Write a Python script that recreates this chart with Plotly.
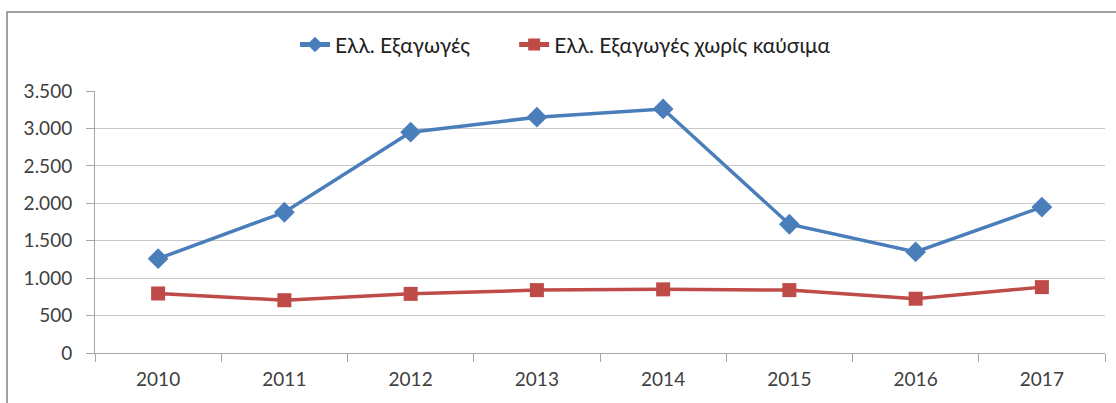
import plotly.graph_objects as go

# data
years = ['2010', '2011', '2012', '2013', '2014', '2015', '2016', '2017']
exports = [1260, 1880, 2950, 3150, 3260, 1720, 1350, 1950]
exports_no_fuel = [795, 705, 790, 840, 850, 840, 725, 880]

name_exports = 'Ελλ. Εξαγωγές'
name_no_fuel = 'Ελλ. Εξαγωγές χωρίς καύσιμα'

blue = '#4a7ebb'
red = '#be4b48'
grey_text = '#404040'

fig = go.Figure()
fig.add_trace(go.Scatter(x=years, y=exports, name=name_exports, mode='lines+markers',
                         line=dict(color=blue, width=3.5),
                         marker=dict(symbol='diamond', size=16, color=blue)))
fig.add_trace(go.Scatter(x=years, y=exports_no_fuel, name=name_no_fuel, mode='lines+markers',
                         line=dict(color=red, width=3.5),
                         marker=dict(symbol='square', size=14, color=red),
                         legend='legend2'))

legend_style = dict(orientation='h', xanchor='left', y=1.176, yanchor='middle',
                    font=dict(size=21, color='#202020'), itemwidth=30,
                    itemsizing='constant', bgcolor='rgba(0,0,0,0)')

fig.update_layout(
    width=1116, height=403,
    margin=dict(l=95, r=11, t=91, b=50),
    paper_bgcolor='white', plot_bgcolor='white',
    separators=',.',
    font=dict(family='Lato, Open Sans, sans-serif', size=19, color=grey_text),
    legend=dict(x=0.198, **legend_style),
    legend2=dict(x=0.415, **legend_style),
    showlegend=True,
)

fig.update_xaxes(type='category', showline=True, linecolor='#a6a6a6', linewidth=1,
                 ticks='outside', tickson='boundaries', ticklen=8, tickcolor='#a6a6a6',
                 showgrid=False, ticklabelstandoff=9, range=[-0.5, 7.5])
fig.update_yaxes(range=[0, 3500], dtick=500, tickformat=',d', showline=True,
                 linecolor='#a6a6a6', linewidth=1, ticks='outside', ticklen=8,
                 tickcolor='#a6a6a6', showgrid=True, gridcolor='#c8c8c8', gridwidth=1,
                 zeroline=False, ticklabelstandoff=10)

# grey frame around the chart (bottom and right run off the picture)
fig.add_shape(type='rect', xref='paper', yref='paper',
              x0=-0.0871, x1=1.2, y0=-0.5, y1=1.3015,
              line=dict(color='#a0a0a0', width=2), layer='below')

fig.write_html("out.html", config={'displayModeBar': False},
               post_script="document.body.style.margin='0px';")
